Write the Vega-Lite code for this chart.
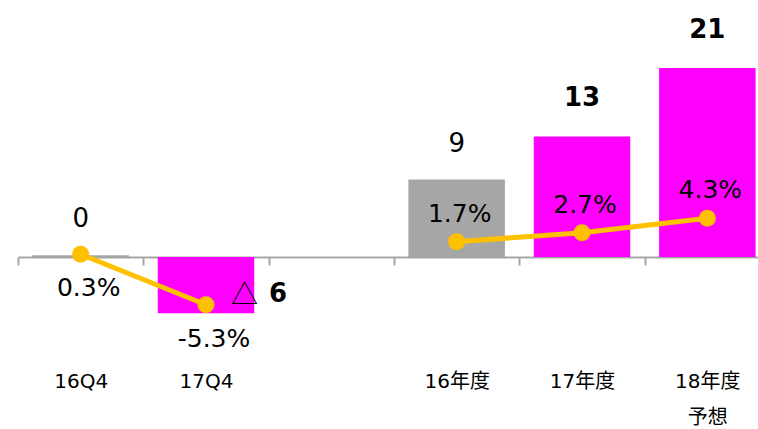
{
  "$schema": "https://vega.github.io/schema/vega-lite/v6.json",
  "width": 752,
  "height": 324,
  "autosize": {"type": "none"},
  "padding": {"left": 18, "top": 41, "right": 0, "bottom": 64},
  "config": {"view": {"stroke": null}, "text": {"font": "DejaVu Sans, Noto Sans CJK JP", "color": "#000000"}},
  "data": {
    "values": [
      {"cat": "16Q4", "type": "prior", "grp": "Q4", "v": 0.2, "p": 0.3, "label": "0", "sign": "", "pl": "0.3%"},
      {"cat": "17Q4", "type": "current", "grp": "Q4", "v": -6.25, "p": -5.3, "label": "6", "sign": "△", "pl": "-5.3%"},
      {"cat": "16年度", "type": "prior", "grp": "FY", "v": 8.6, "p": 1.7, "label": "9", "sign": "", "pl": "1.7%"},
      {"cat": "17年度", "type": "current", "grp": "FY", "v": 13.4, "p": 2.7, "label": "13", "sign": "", "pl": "2.7%"},
      {"cat": "18年度予想", "type": "current", "grp": "FY", "v": 21.0, "p": 4.3, "label": "21", "sign": "", "pl": "4.3%"}
    ]
  },
  "layer": [
    {
      "mark": {"type": "bar", "width": {"band": 0.77}},
      "encoding": {
        "x": {
          "field": "cat", "type": "nominal",
          "scale": {"domain": ["16Q4", "17Q4", " ", "16年度", "17年度", "18年度予想"], "paddingInner": 0, "paddingOuter": 0},
          "axis": {
            "title": null, "labelAngle": 0, "labelFontSize": 20, "labelFont": "DejaVu Sans, Noto Sans CJK JP",
            "labelColor": "#000000", "labelPadding": 106, "tickSize": 8, "tickColor": "#A6A6A6", "tickWidth": 2,
            "domainColor": "#A6A6A6", "domainWidth": 2, "tickBand": "extent", "offset": -108,
            "labelOverlap": false, "labelLineHeight": 36,
            "labelExpr": "datum.label == '18年度予想' ? ['18年度', '予想'] : datum.label"
          }
        },
        "y": {"field": "v", "type": "quantitative", "scale": {"domain": [-12, 24], "nice": false}, "axis": null},
        "color": {"field": "type", "type": "nominal", "scale": {"domain": ["prior", "current"], "range": ["#A6A6A6", "#FF00FF"]}, "legend": null}
      }
    },
    {
      "transform": [{"filter": "datum.type == 'prior'"}],
      "mark": {"type": "text", "fontSize": 26, "baseline": "alphabetic", "dy": -28},
      "encoding": {"x": {"field": "cat", "type": "nominal"}, "y": {"field": "v", "type": "quantitative"}, "text": {"field": "label"}}
    },
    {
      "transform": [{"filter": "datum.type == 'current' && datum.v > 0"}],
      "mark": {"type": "text", "fontSize": 26, "fontWeight": "bold", "baseline": "alphabetic", "dy": -30},
      "encoding": {"x": {"field": "cat", "type": "nominal"}, "y": {"field": "v", "type": "quantitative"}, "text": {"field": "label"}}
    },
    {
      "transform": [{"filter": "datum.v < 0"}],
      "mark": {"type": "text", "font": "Noto Sans CJK JP", "fontSize": 27, "align": "left", "baseline": "alphabetic", "dx": 25, "dy": -9},
      "encoding": {"x": {"field": "cat", "type": "nominal"}, "y": {"field": "v", "type": "quantitative"}, "text": {"field": "sign"}}
    },
    {
      "transform": [{"filter": "datum.v < 0"}],
      "mark": {"type": "text", "fontSize": 26, "fontWeight": "bold", "align": "left", "baseline": "alphabetic", "dx": 63, "dy": -11},
      "encoding": {"x": {"field": "cat", "type": "nominal"}, "y": {"field": "v", "type": "quantitative"}, "text": {"field": "label"}}
    },
    {
      "transform": [{"filter": "datum.grp == 'Q4'"}],
      "mark": {"type": "text", "fontSize": 25, "baseline": "alphabetic", "dx": 8, "dy": 42},
      "encoding": {"x": {"field": "cat", "type": "nominal"}, "y": {"field": "p", "type": "quantitative"}, "text": {"field": "pl"}}
    },
    {
      "transform": [{"filter": "datum.grp == 'FY'"}],
      "mark": {"type": "text", "fontSize": 25, "baseline": "alphabetic", "dx": 3, "dy": -20},
      "encoding": {"x": {"field": "cat", "type": "nominal"}, "y": {"field": "p", "type": "quantitative"}, "text": {"field": "pl"}}
    },
    {
      "mark": {"type": "line", "color": "#FFC000", "strokeWidth": 5},
      "encoding": {"x": {"field": "cat", "type": "nominal"}, "y": {"field": "p", "type": "quantitative"}, "detail": {"field": "grp"}}
    },
    {
      "mark": {"type": "circle", "color": "#FFC000", "size": 290, "opacity": 1},
      "encoding": {"x": {"field": "cat", "type": "nominal"}, "y": {"field": "p", "type": "quantitative"}}
    }
  ]
}
